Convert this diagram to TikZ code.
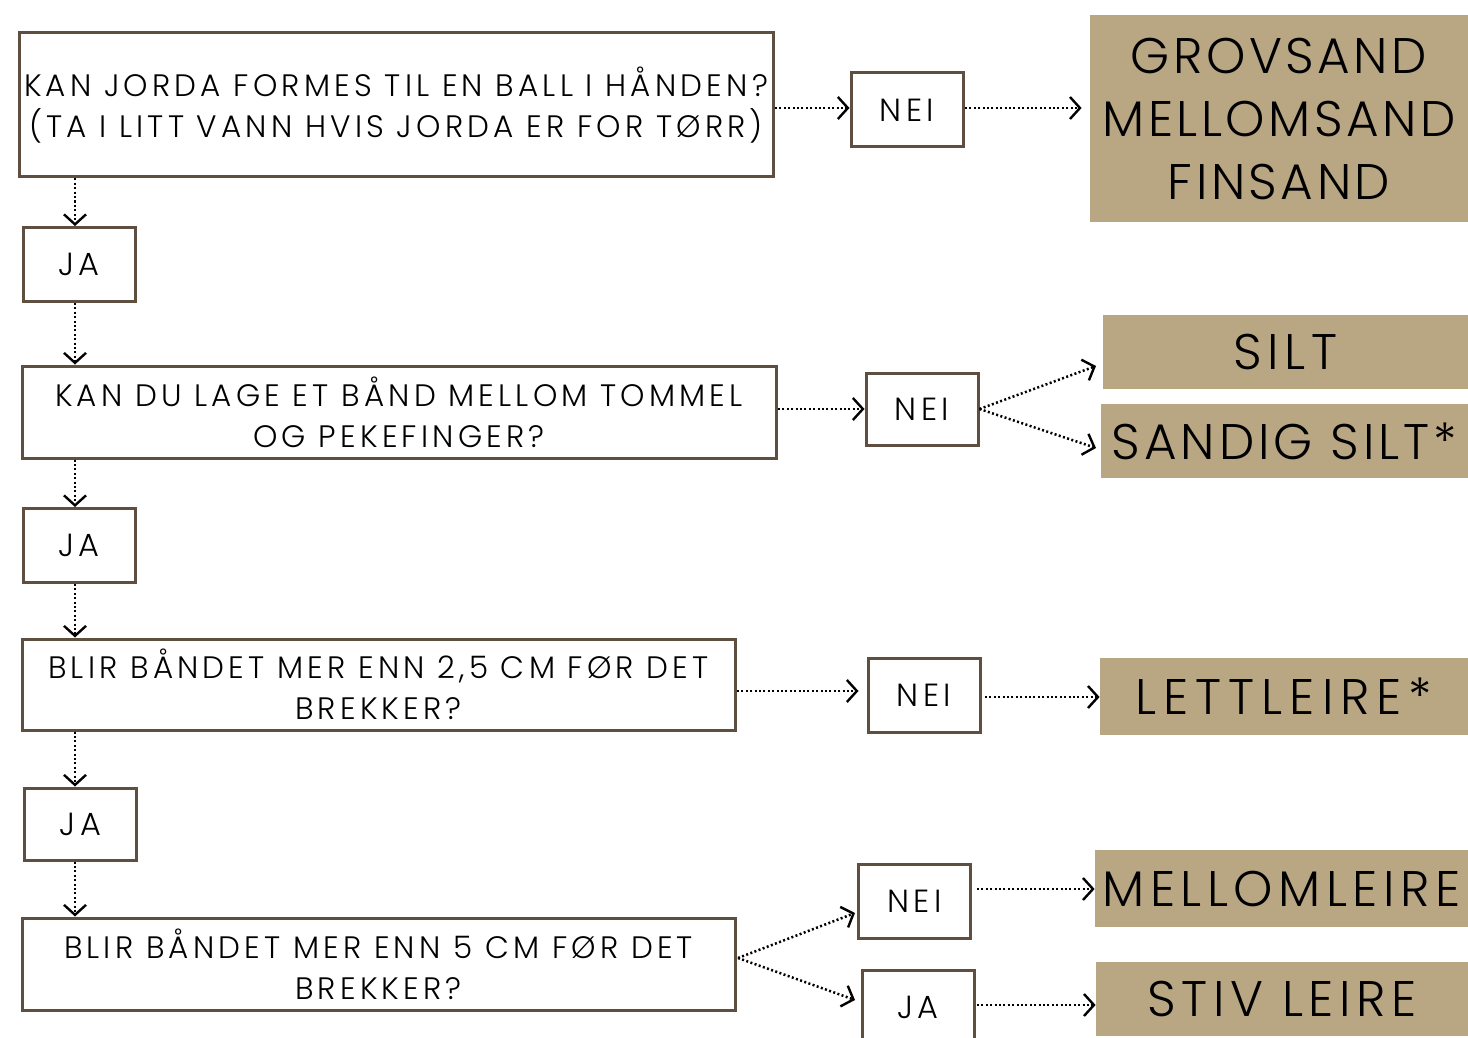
\documentclass[tikz,border=0pt]{standalone}
\usepackage{fontspec}
\setmainfont{Poppins}[UprightFont={* Light}]
\usetikzlibrary{arrows.meta}
\definecolor{boxbrown}{RGB}{94,79,64}
\definecolor{soiltan}{RGB}{185,166,130}
\begin{document}
\begin{tikzpicture}[x=0.5pt,y=-0.5pt,
  qbox/.style={draw=boxbrown, line width=1.5pt, fill=white, inner sep=0pt, align=center,
    font=\fontsize{15.5}{20.5}\selectfont\addfontfeatures{LetterSpace=13.5}, text=black},
  abox/.style={qbox, minimum width=56pt, minimum height=37pt,
    font=\fontsize{16}{20}\selectfont\addfontfeatures{LetterSpace=14}},
  res/.style={fill=soiltan, inner sep=0pt, align=center, text=black,
    font=\fontsize{25}{31.5}\selectfont\addfontfeatures{LetterSpace=11}},
  arr/.style={line width=1.25pt, dash pattern=on 1pt off 1.2pt,
    -{Straight Barb[length=5pt,width=11pt,line width=1.2pt]}}]
\useasboundingbox (0,0) rectangle (1468,1038);

% question boxes
\node[qbox, minimum width=377pt, minimum height=72pt] (q1) at (396,105)
  {KAN JORDA FORMES TIL EN BALL I HÅNDEN?\\(TA I LITT VANN HVIS JORDA ER FOR TØRR)};
\node[qbox, minimum width=377pt, minimum height=46pt] (q2) at (399,412)
  {KAN DU LAGE ET BÅND MELLOM TOMMEL\\OG PEKEFINGER?};
\node[qbox, minimum width=356.5pt, minimum height=45.5pt] (q3) at (378.5,684.5)
  {BLIR BÅNDET MER ENN 2,5 CM FØR DET\\BREKKER?};
\node[qbox, minimum width=356.5pt, minimum height=46pt] (q4) at (378.5,964)
  {BLIR BÅNDET MER ENN 5 CM FØR DET\\BREKKER?};

% answer boxes
\node[abox] (j1) at (79,264.5) {JA};
\node[abox] (j2) at (79,545.5) {JA};
\node[abox, minimum height=36pt] (j3) at (80.5,824) {JA};
\node[abox] (n1) at (907,110) {NEI};
\node[abox, minimum height=36pt] (n2) at (922,409) {NEI};
\node[abox] (n3) at (924,695.5) {NEI};
\node[abox] (n4) at (914.5,901) {NEI};
\node[abox] (j4) at (918,1007) {JA};

% result boxes
\node[res, minimum width=189pt, minimum height=103.5pt,
  font=\fontsize{25}{31.5}\selectfont\addfontfeatures{LetterSpace=7}] (r1) at (1279,118.5)
  {GROVSAND\\MELLOMSAND\\FINSAND};
\node[res, minimum width=182.5pt, minimum height=37pt] (r2a) at (1285.5,352) {SILT};
\node[res, minimum width=183.5pt, minimum height=37pt,
  font=\fontsize{25}{31.5}\selectfont\addfontfeatures{LetterSpace=8}] (r2b) at (1284.5,441) {SANDIG SILT*};
\node[res, minimum width=184pt, minimum height=38.5pt,
  font=\fontsize{25}{31.5}\selectfont\addfontfeatures{LetterSpace=14}] (r3) at (1284,696.5) {LETTLEIRE*};
\node[res, minimum width=186.5pt, minimum height=38.5pt] (r4a) at (1281.5,888.5) {MELLOMLEIRE};
\node[res, minimum width=186pt, minimum height=37pt] (r4b) at (1282,999) {STIV LEIRE};

% connector end points
\coordinate (d1) at (75,0);
\coordinate (q1n) at (775,108);
\coordinate (n1r) at (965,108);
\coordinate (q2n) at (778,409);
\coordinate (q3n) at (737,691);
\coordinate (n3r) at (985,697);
\coordinate (q4o) at (738,958);
\coordinate (n4r) at (977,889);
\coordinate (j4r) at (977,1005);
\coordinate (t2a) at (1096,366);
\coordinate (t2b) at (1096,448);
\coordinate (t4n) at (855,913);
\coordinate (t4j) at (855,1000);

% vertical flow
\draw[arr] (q1.south -| d1) -- (j1.north -| d1);
\draw[arr] (j1.south -| d1) -- (q2.north -| d1);
\draw[arr] (q2.south -| d1) -- (j2.north -| d1);
\draw[arr] (j2.south -| d1) -- (q3.north -| d1);
\draw[arr] (q3.south -| d1) -- (j3.north -| d1);
\draw[arr] (j3.south -| d1) -- (q4.north -| d1);

% horizontal flow
\draw[arr] (q1n) -- (n1.west |- q1n);
\draw[arr, shorten >=4pt] (n1r) -- (n1r -| r1.west);
\draw[arr] (q2n) -- (n2.west |- q2n);
\draw[arr] (n2.east) -- (t2a);
\draw[arr] (n2.east) -- (t2b);
\draw[arr, shorten >=4pt] (q3n) -- (n3.west |- q3n);
\draw[arr] (n3r) -- (n3r -| r3.west);
\draw[arr] (q4o) -- (t4n);
\draw[arr] (q4o) -- (t4j);
\draw[arr] (n4r) -- (n4r -| r4a.west);
\draw[arr] (j4r) -- (j4r -| r4b.west);
\end{tikzpicture}
\end{document}
